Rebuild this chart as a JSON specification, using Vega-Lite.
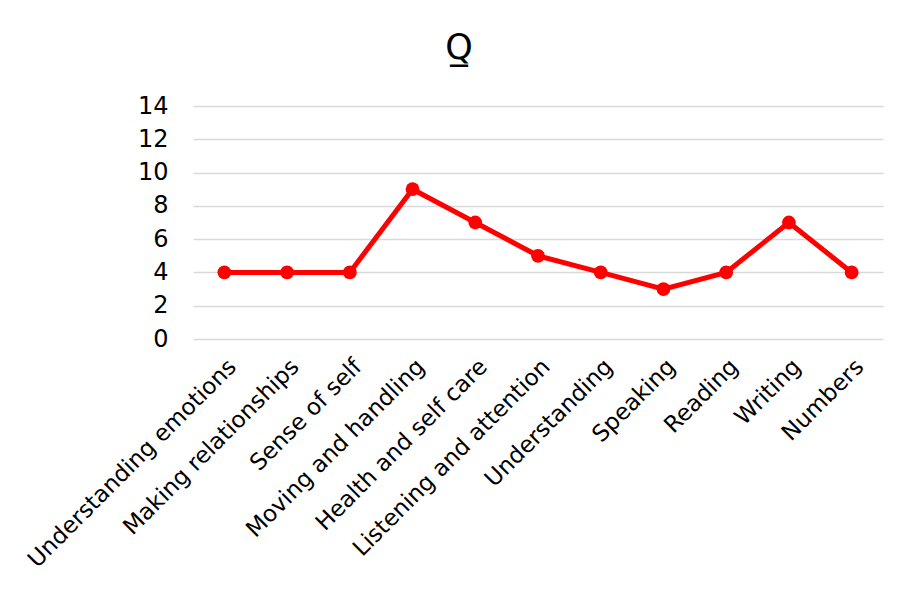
{
  "$schema": "https://vega.github.io/schema/vega-lite/v6.json",
  "autosize": "none",
  "width": 690,
  "height": 233,
  "padding": {"left": 193, "top": 106, "right": 25, "bottom": 251},
  "background": "white",
  "config": {
    "view": {"stroke": null},
    "font": "DejaVu Sans"
  },
  "title": {
    "text": "Q̲",
    "font": "DejaVu Sans",
    "fontSize": 35,
    "fontWeight": "normal",
    "color": "#000000",
    "anchor": "middle",
    "dx": -79,
    "offset": 28
  },
  "data": {
    "values": [
      {"skill": "Understanding emotions", "value": 4},
      {"skill": "Making relationships", "value": 4},
      {"skill": "Sense of self", "value": 4},
      {"skill": "Moving and handling", "value": 9},
      {"skill": "Health and self care", "value": 7},
      {"skill": "Listening and attention", "value": 5},
      {"skill": "Understanding", "value": 4},
      {"skill": "Speaking", "value": 3},
      {"skill": "Reading", "value": 4},
      {"skill": "Writing", "value": 7},
      {"skill": "Numbers", "value": 4}
    ]
  },
  "mark": {"type": "line", "color": "#FF0000", "strokeWidth": 5, "point": {"filled": true, "size": 190, "color": "#FF0000", "opacity": 1}},
  "encoding": {
    "x": {
      "field": "skill",
      "type": "nominal",
      "sort": null,
      "scale": {"type": "point", "padding": 0.5},
      "axis": {
        "title": null,
        "domain": false,
        "ticks": false,
        "grid": false,
        "labelAngle": -45,
        "labelFontSize": 23,
        "labelColor": "#000000",
        "labelPadding": 16,
        "labelLimit": 400
      }
    },
    "y": {
      "field": "value",
      "type": "quantitative",
      "scale": {"domain": [0, 14]},
      "axis": {
        "title": null,
        "values": [0, 2, 4, 6, 8, 10, 12, 14],
        "domain": false,
        "ticks": false,
        "grid": true,
        "gridColor": "#d9d9d9",
        "gridWidth": 1.5,
        "labelFontSize": 24,
        "labelColor": "#000000",
        "labelPadding": 25
      }
    }
  }
}
